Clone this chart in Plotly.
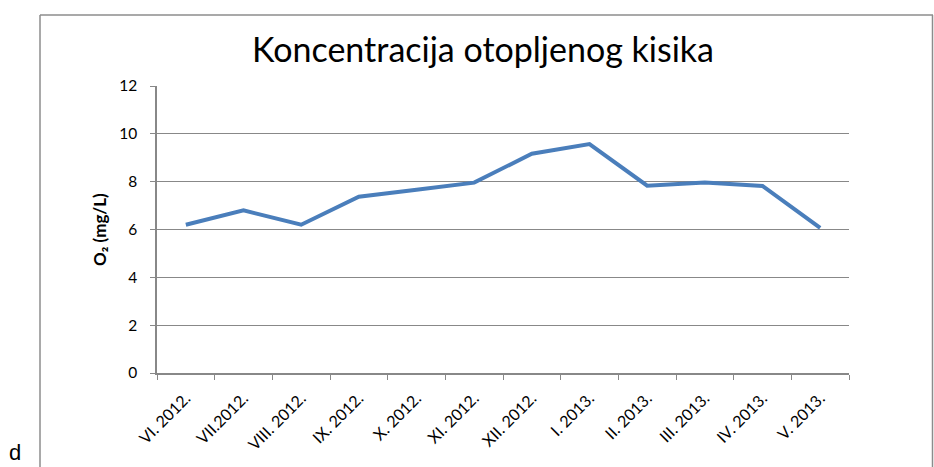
import plotly.graph_objects as go

# Monthly dissolved oxygen concentration
months = ["VI. 2012.", "VII.2012.", "VIII. 2012.", "IX. 2012.", "X. 2012.", "XI. 2012.",
          "XII. 2012.", "I. 2013.", "II. 2013.", "III. 2013.", "IV. 2013.", "V. 2013."]
o2_values = [6.2, 6.8, 6.2, 7.37, 7.66, 7.96, 9.17, 9.57, 7.83, 7.96, 7.82, 6.07]
y_ticks = [0, 2, 4, 6, 8, 10, 12]

W, H = 934, 467
FONT = "Lato, 'Open Sans', sans-serif"
GRID = "#888888"

fig = go.Figure()
fig.add_trace(go.Scatter(
    x=months, y=o2_values, mode="lines",
    line=dict(color="#4a7ebb", width=4),
    showlegend=False, hoverinfo="x+y",
))

fig.update_layout(
    width=W, height=H,
    margin=dict(l=0, r=0, t=0, b=0, autoexpand=False),
    paper_bgcolor="white", plot_bgcolor="white",
    font=dict(family=FONT, color="#000000"),
    title=dict(text="Koncentracija otopljenog kisika",
               x=483 / W, xanchor="center", y=1 - 50 / H, yanchor="middle",
               font=dict(size=34, family=FONT, color="#000000")),
    xaxis=dict(
        domain=[157 / W, 849 / W], automargin=False,
        type="category", range=[-0.5, len(months) - 0.5],
        tickson="boundaries", ticks="outside", ticklen=5, tickcolor=GRID,
        showline=True, linecolor=GRID, linewidth=1.5,
        showgrid=False, tickangle=-45, ticklabelstandoff=8,
        tickfont=dict(size=16, family=FONT, color="#000000"),
    ),
    yaxis=dict(
        domain=[(H - 373) / H, (H - 86) / H], automargin=False,
        range=[0, 12], tickvals=y_ticks, ticks="outside", ticklen=5, tickcolor=GRID,
        showline=True, linecolor=GRID, linewidth=1.5,
        showgrid=True, gridcolor=GRID, gridwidth=1, zeroline=False,
        ticklabelstandoff=10,
        tickfont=dict(size=15.5, family=FONT, color="#000000"),
    ),
    shapes=[
        # chart area frame
        dict(type="line", xref="paper", yref="paper",
             x0=40 / W, x1=933 / W, y0=1 - 15 / H, y1=1 - 15 / H,
             line=dict(color="#8c8c8c", width=1.5)),
        dict(type="line", xref="paper", yref="paper",
             x0=40 / W, x1=40 / W, y0=0, y1=1 - 15 / H,
             line=dict(color="#8c8c8c", width=1.5)),
        dict(type="line", xref="paper", yref="paper",
             x0=932.5 / W, x1=932.5 / W, y0=0, y1=1 - 15 / H,
             line=dict(color="#8c8c8c", width=1.5)),
    ],
    annotations=[
        dict(text="<b>O₂ (mg/L)</b>", xref="paper", yref="paper",
             x=100 / W, y=1 - 230 / H, xanchor="center", yanchor="middle",
             textangle=-90, showarrow=False,
             font=dict(size=17, family=FONT, color="#000000")),
        dict(text="d", xref="paper", yref="paper", x=7 / W, y=0,
             xanchor="left", yanchor="bottom", showarrow=False,
             font=dict(size=22, family="Liberation Sans, Arial, sans-serif", color="#000000")),
    ],
)

fig.write_html("out.html")
